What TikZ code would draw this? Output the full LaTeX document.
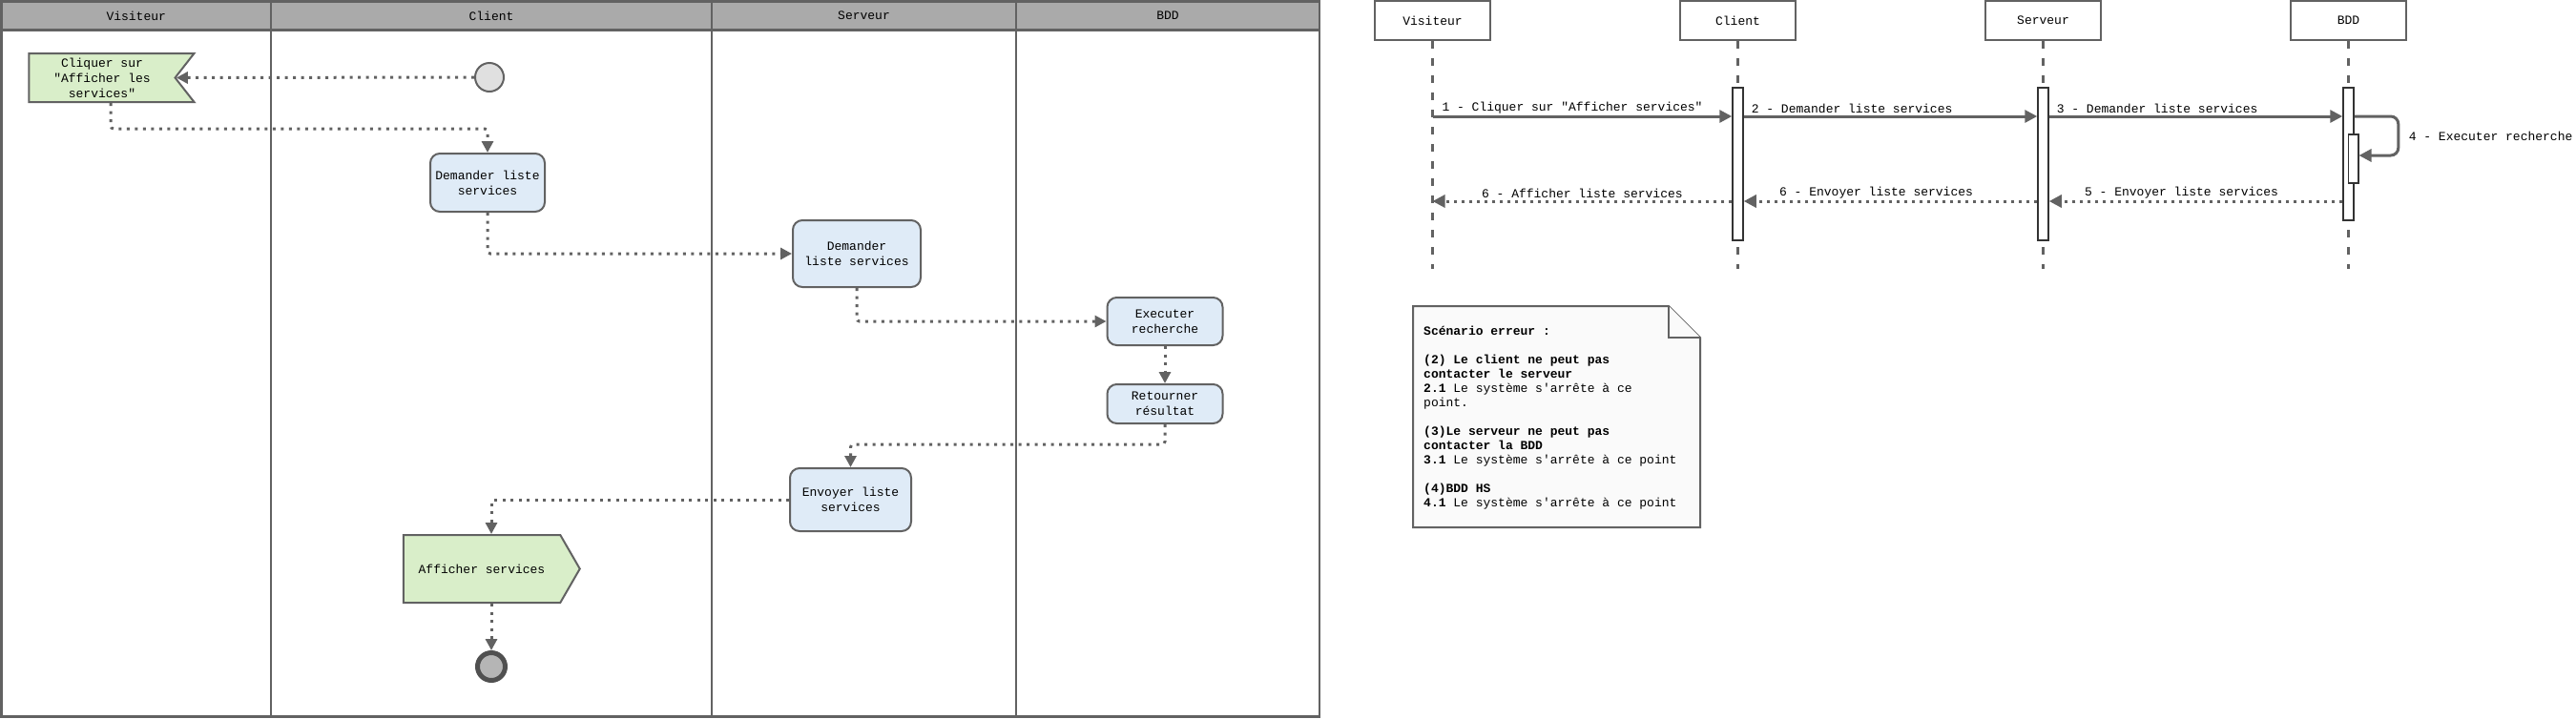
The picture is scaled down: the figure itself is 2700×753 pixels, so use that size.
\documentclass[tikz,border=0pt]{standalone}
\usepackage{fontspec}
\setmainfont{Liberation Mono}[Ligatures=TeXOff]
\usepackage{xcolor}
\usetikzlibrary{positioning,shapes.symbols,arrows.meta}
\definecolor{umlline}{HTML}{626262}
\definecolor{umlhead}{HTML}{AAAAAA}
\definecolor{umlblue}{HTML}{DFEBF7}
\definecolor{umlgreen}{HTML}{D9EEC9}
\definecolor{umlstart}{HTML}{E0E0E0}
\definecolor{umlend}{HTML}{B5B5B5}
\definecolor{umlendline}{HTML}{505050}
\definecolor{umlnote}{HTML}{FAFAFA}
\newcommand{\umlfont}{\fontsize{13}{16}\selectfont}
\tikzset{
  uml lane/.style={draw=umlline, line width=2.5pt},
  uml title/.style={font=\umlfont, inner sep=0pt},
  uml action/.style={rectangle, rounded corners=10pt, draw=umlline, line width=2pt, fill=umlblue, align=center, inner sep=2pt, font=\umlfont},
  uml signal/.style={signal, draw=umlline, line width=2pt, fill=umlgreen, align=center, inner sep=2pt, font=\umlfont},
  uml start/.style={circle, draw=umlline, line width=2pt, fill=umlstart, minimum size=30pt, inner sep=0pt},
  uml end/.style={circle, draw=umlendline, line width=5pt, fill=umlend, minimum size=29pt, inner sep=0pt},
  uml flow/.style={draw=umlline, line width=3pt, dash pattern=on 3pt off 5.5pt, rounded corners=3pt, -{Triangle[length=12pt,width=12pt]}},
  seq head/.style={rectangle, draw=umlline, line width=2.5pt, minimum width=121pt, minimum height=41pt, inner sep=0pt, font=\umlfont},
  seq life/.style={draw=umlline, line width=2.5pt, dash pattern=on 8pt off 10pt},
  seq act/.style={rectangle, draw=black!80, fill=white, line width=1.5pt, minimum width=11pt, inner sep=0pt},
  seq msg/.style={draw=umlline, line width=3pt, -{Triangle[length=13pt,width=13pt]}},
  seq ret/.style={seq msg, dash pattern=on 3pt off 5pt},
  seq label/.style={font=\umlfont, inner sep=1.5pt, text=black},
  uml note/.style={draw=umlline, line width=2pt, fill=umlnote, line join=miter}
}

\begin{document}
\begin{tikzpicture}[x=1pt, y=-1pt]
    \useasboundingbox (0,0) rectangle (2700,753);

    % swimlanes
    \fill[umlhead] (1.5,1.5) rectangle (1383,31.5);
    \draw[uml lane] (1.5,1.5) rectangle (1383,751.5);
    \draw[uml lane] (1.5,31.5) -- (1383,31.5);
    \draw[uml lane] (284,1.5) -- (284,751.5);
    \draw[uml lane] (746,1.5) -- (746,751.5);
    \draw[uml lane] (1065,1.5) -- (1065,751.5);
    \node[uml title] (LaneV) at (142.75,16.5) {Visiteur};
    \node[uml title] (LaneC) at (515,16.5) {Client};
    \node[uml title] (LaneS) at (905.5,16.5) {Serveur};
    \node[uml title] (LaneB) at (1224,16.5) {BDD};

    % activity
    \node[uml start] (Start) at (513,81) {};
    \node[uml signal, signal to=nowhere, signal from=east, signal pointer angle=104, minimum width=173pt, minimum height=51pt] (Click) at (107,81.5) {Cliquer sur\\"Afficher les\\services"};
    \node[uml action, minimum width=120pt, minimum height=61pt] (DemC) at (511,191.5) {Demander liste\\services};
    \node[uml action, minimum width=134pt, minimum height=70pt] (DemS) at (898,266) {Demander\\liste services};
    \node[uml action, minimum width=121pt, minimum height=50pt] (Exec) at (1221,337) {Executer\\recherche};
    \node[uml action, minimum width=121pt, minimum height=41pt, below=39pt of Exec] (Ret) {Retourner\\résultat};
    \node[uml action, minimum width=127pt, minimum height=66pt] (Env) at (891.5,524) {Envoyer liste\\services};
    \node[uml signal, signal to=east, signal pointer angle=120, minimum width=185pt, minimum height=71pt] (Aff) at (505,596.5) {Afficher services};
    \node[uml end, below=49pt of Aff, xshift=10pt] (End) {};

    \draw[uml flow] (Start) -- (Click.east);
    \draw[uml flow] ([xshift=9pt]Click.south) -- ++(0,27) -| (DemC.north);
    \draw[uml flow] (DemC.south) |- (DemS.west);
    \draw[uml flow] (DemS.south) |- (Exec.west);
    \draw[uml flow] (Exec) -- (Ret);
    \draw[uml flow] (Ret.south) -- ++(0,21) -| (Env.north);
    \draw[uml flow] (Env.west) -| (End |- Aff.north);
    \draw[uml flow] (End |- Aff.south) -- (End);

    % sequence
    \node[seq head] (HV) at (1501.5,21.5) {Visiteur};
    \node[seq head, right=196.5pt of HV] (HC) {Client};
    \node[seq head, right=196.5pt of HC] (HS) {Serveur};
    \node[seq head, right=196.5pt of HS] (HB) {BDD};
    \coordinate (LV) at (HV |- 0,282);
    \coordinate (LC) at (HC |- 0,282);
    \coordinate (LS) at (HS |- 0,282);
    \coordinate (LB) at (HB |- 0,282);
    \draw[seq life] (HV) -- (LV);
    \draw[seq life] (HC) -- (LC);
    \draw[seq life] (HS) -- (LS);
    \draw[seq life] (HB) -- (LB);

    \node[seq act, minimum height=160pt] (ActC) at (HC |- 0,172) {};
    \node[seq act, minimum height=160pt] (ActS) at (HS |- 0,172) {};
    \node[seq act, minimum height=139pt] (ActB) at (HB |- 0,161.5) {};
    \node[seq act, minimum height=51pt, minimum width=10.5pt] (ActB2) at ([xshift=5pt]HB |- 0,166.5) {};

    \draw[seq msg] (HV |- 0,122) -- (ActC.west |- 0,122) node[seq label, pos=0, above right, xshift=7pt] {1 - Cliquer sur "Afficher services"};
    \draw[seq msg] (ActC.east |- 0,122) -- (ActS.west |- 0,122) node[seq label, pos=0, above right, xshift=5pt] {2 - Demander liste services};
    \draw[seq msg] (ActS.east |- 0,122) -- (ActB.west |- 0,122) node[seq label, pos=0, above right, xshift=5pt] {3 - Demander liste services};
    \draw[seq msg, rounded corners=8pt] (ActB.east |- 0,122) -- ++(46,0) -- ++(0,41) node[seq label, midway, right, xshift=8pt] {4 - Executer recherche} -- (ActB2.east |- 0,163);
    \draw[seq ret] (ActB.west |- 0,211) -- (ActS.east |- 0,211) node[seq label, midway, above, xshift=-15pt] {5 - Envoyer liste services};
    \draw[seq ret] (ActS.west |- 0,211) -- (ActC.east |- 0,211) node[seq label, midway, above, xshift=-15pt] {6 - Envoyer liste services};
    \draw[seq ret] (ActC.west |- 0,211) -- (HV |- 0,211) node[seq label, midway, above] {6 - Afficher liste services};

    % note
    \draw[uml note] (1481,321) -- (1749,321) -- (1782,354) -- (1782,553) -- (1481,553) -- cycle;
    \draw[uml note] (1749,321) -- (1749,354) -- (1782,354);
    \node[anchor=north west, inner sep=0pt, align=left, font=\fontsize{13}{15}\selectfont] (Note) at (1492,342) {%
      \textbf{Scénario erreur :}\\[15pt]
      \textbf{(2) Le client ne peut pas}\\
      \textbf{contacter le serveur}\\
      \textbf{2.1} Le système s'arrête à ce\\
      point.\\[15pt]
      \textbf{(3)Le serveur ne peut pas}\\
      \textbf{contacter la BDD}\\
      \textbf{3.1} Le système s'arrête à ce point\\[15pt]
      \textbf{(4)BDD HS}\\
      \textbf{4.1} Le système s'arrête à ce point};
\end{tikzpicture}
\end{document}
